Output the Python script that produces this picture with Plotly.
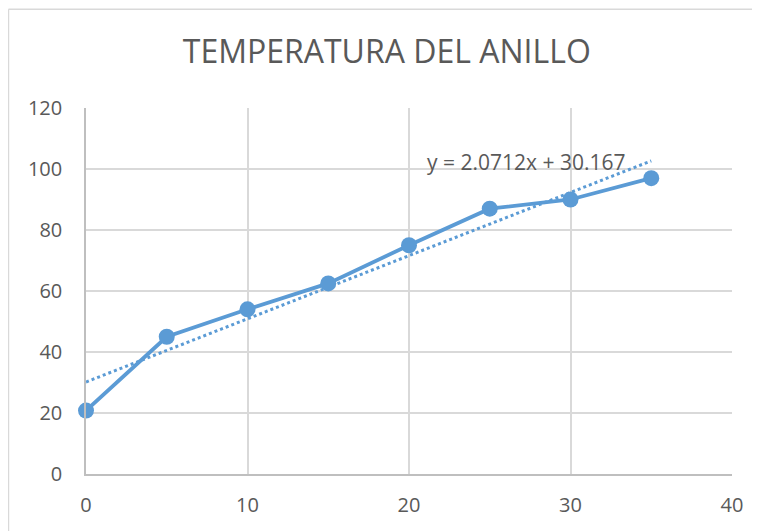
import plotly.graph_objects as go

x_vals = [0, 5, 10, 15, 20, 25, 30, 35]
y_vals = [20.8, 45, 54, 62.5, 75, 87, 90, 97]
trend_slope = 2.0712
trend_intercept = 30.167
trend_x = [0, 35]
title_text = "TEMPERATURA DEL ANILLO"
x_ticks = [0, 10, 20, 30, 40]
y_ticks = [0, 20, 40, 60, 80, 100, 120]

blue = "#5B9BD5"
gray_txt = "#595959"
FONT = "Open Sans"

fig = go.Figure()
fig.add_trace(go.Scatter(
    x=trend_x, y=[trend_slope * v + trend_intercept for v in trend_x],
    mode="lines", line=dict(color=blue, width=3, dash="dot"),
    showlegend=False, hoverinfo="skip"))
fig.add_trace(go.Scatter(
    x=x_vals, y=y_vals, mode="lines+markers",
    line=dict(color=blue, width=3.8),
    marker=dict(color=blue, size=16),
    showlegend=False, cliponaxis=False))

fig.add_annotation(x=21.0, y=102.3, xref="x", yref="y",
                   text=f"y = {trend_slope}x + {trend_intercept}",
                   showarrow=False, xanchor="left", yanchor="middle",
                   font=dict(family=FONT, size=21, color=gray_txt))

# outer chart border (left and top edges visible)
fig.add_shape(type="line", xref="paper", yref="paper",
              x0=-0.12, x1=-0.12, y0=-0.3, y1=1.27,
              line=dict(color="#D9D9D9", width=1.5), layer="below")
fig.add_shape(type="line", xref="paper", yref="paper",
              x0=-0.12, x1=1.2, y0=1.27, y1=1.27,
              line=dict(color="#D9D9D9", width=1.5), layer="below")

fig.update_layout(
    width=760, height=531,
    margin=dict(l=77.5, r=36, t=100, b=65),
    paper_bgcolor="white", plot_bgcolor="white",
    title=dict(text=title_text, x=0.4656, xanchor="center", y=0.917, yanchor="middle",
               xref="paper", font=dict(family=FONT, size=32, color=gray_txt)),
    xaxis=dict(range=[0, 40], tickvals=x_ticks, showgrid=True, gridcolor="#D9D9D9",
               gridwidth=1.5, zeroline=False, showline=True, linecolor="#BFBFBF",
               linewidth=1.5, ticks="outside", ticklen=12, tickcolor="rgba(0,0,0,0)",
               tickfont=dict(family=FONT, size=20, color=gray_txt)),
    yaxis=dict(range=[0, 120], tickvals=y_ticks, showgrid=True, gridcolor="#D9D9D9",
               gridwidth=1.5, zeroline=False, showline=True, linecolor="#BFBFBF",
               linewidth=1.5, ticks="outside", ticklen=18, tickcolor="rgba(0,0,0,0)",
               tickfont=dict(family=FONT, size=20, color=gray_txt)),
)
fig.write_html("out.html")
